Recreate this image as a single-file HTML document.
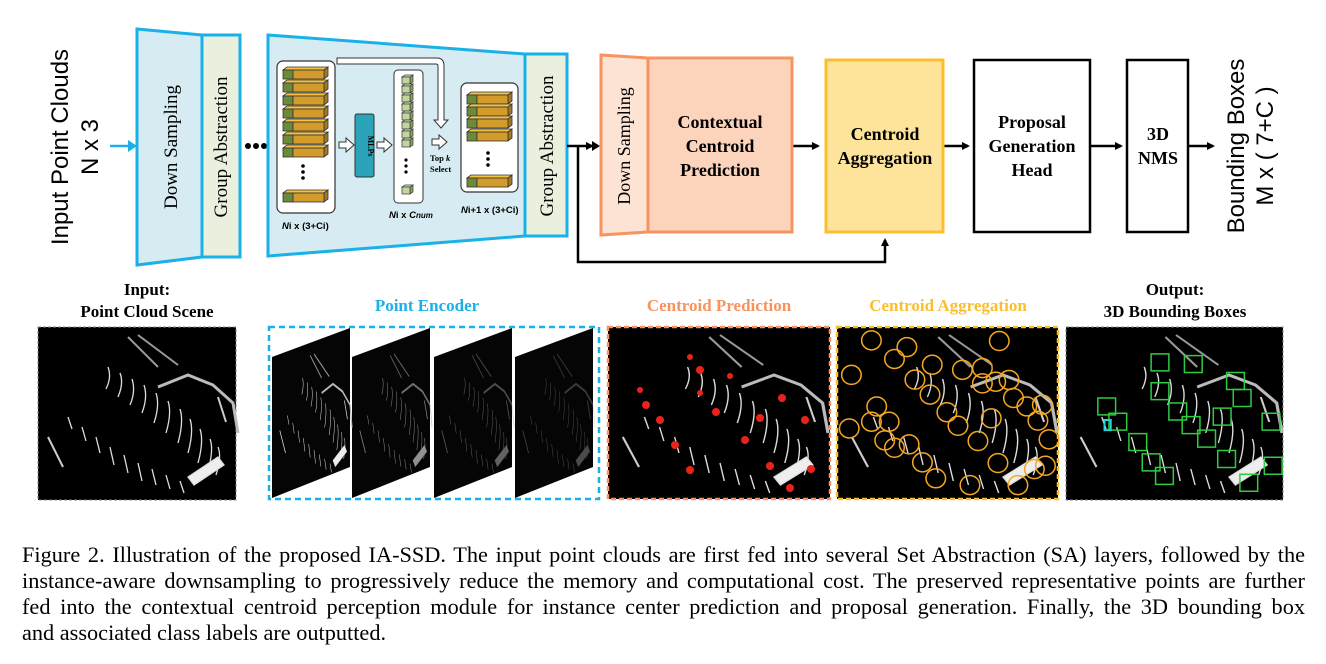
<!DOCTYPE html>
<html><head><meta charset="utf-8"><style>
html,body{margin:0;padding:0;background:#fff;}
body{width:1326px;height:664px;position:relative;overflow:hidden;}
svg{position:absolute;left:0;top:0;}
.cap{position:absolute;left:22px;top:542px;width:1283px;font-family:"Liberation Serif",serif;font-size:22.3px;line-height:26px;color:#000;}
.cap div{text-align:justify;text-align-last:justify;white-space:nowrap;}
.cap div.l{text-align-last:left;}
</style></head><body>
<svg width="1326" height="664" viewBox="0 0 1326 664" xmlns="http://www.w3.org/2000/svg">
<defs>
<marker id="ab" markerWidth="8" markerHeight="8" refX="6" refY="4" orient="auto" markerUnits="userSpaceOnUse"><path d="M0,0 L8,4 L0,8 z" fill="#000"/></marker>
<g id="scene" stroke="#ddd" fill="none" stroke-width="1.3">
<path d="M70,40 q4,10 -2,22 M82,46 q4,10 -2,24 M94,52 q4,12 -2,26 M106,58 q4,12 -2,28 M118,66 q4,12 -2,30 M130,74 q4,12 -2,32 M142,82 q4,12 -2,34 M152,92 q4,12 -2,34 M162,102 q4,12 -2,34 M172,112 q4,10 -2,32 M180,120 q4,10 -2,28"/>
<path d="M30,90 l4,12 M44,100 l4,14 M58,110 l4,16 M72,120 l4,18 M86,128 l4,18 M100,136 l4,18 M114,142 l4,16 M128,148 l4,14 M142,154 l4,12" />
<path d="M150,150 l30,-20 l6,8 l-30,20 z" fill="#eee"/>
<path d="M120,60 l30,-12 l25,10 l20,18 l5,30" stroke="#bbb" stroke-width="3"/>
<path d="M90,10 l30,30 M100,8 l40,30" stroke="#999" stroke-width="2"/>
<path d="M10,110 l15,30 M180,70 l8,25" stroke="#ccc" stroke-width="2"/>
</g>
</defs>

<text transform="translate(68,147) rotate(-90)" text-anchor="middle" font-family="Liberation Sans,sans-serif" font-size="24">Input Point Clouds</text>
<text transform="translate(98,147) rotate(-90)" text-anchor="middle" font-family="Liberation Sans,sans-serif" font-size="24">N x 3</text>
<line x1="110" y1="146" x2="130" y2="146" stroke="#1ab0e8" stroke-width="2.5"/>
<path d="M128,140 L137,146 L128,152 z" fill="#1ab0e8"/>

<path d="M137,29 L202,35 L202,257 L137,265 z" fill="#d6ecf2" stroke="#1ab0e8" stroke-width="3"/>
<rect x="202" y="35" width="38" height="222" fill="#e9f0de" stroke="#1ab0e8" stroke-width="3"/>
<text transform="translate(177,147) rotate(-90)" text-anchor="middle" font-family="Liberation Serif,serif" font-size="19">Down Sampling</text>
<text transform="translate(227,147) rotate(-90)" text-anchor="middle" font-family="Liberation Serif,serif" font-size="19">Group Abstraction</text>
<circle cx="248" cy="146" r="3" fill="#000"/><circle cx="256" cy="146" r="3" fill="#000"/><circle cx="264" cy="146" r="3" fill="#000"/>

<path d="M268,35 L525,54 L525,236 L268,256 z" fill="#d6ecf2" stroke="#1ab0e8" stroke-width="3"/>
<rect x="525" y="54" width="42" height="182" fill="#e9f0de" stroke="#1ab0e8" stroke-width="3"/>
<text transform="translate(553,146) rotate(-90)" text-anchor="middle" font-family="Liberation Serif,serif" font-size="19">Group Abstraction</text>

<rect x="277" y="61" width="58" height="152" rx="6" fill="#fff" stroke="#333" stroke-width="1.2"/>
<g stroke="#333" stroke-width="0.8">
<g id="blk"><path d="M283,70 l4,-3 h41 l-4,3 z" fill="#f5c244"/><path d="M328,67 v9 l-4,3 v-9 z" fill="#a57a1e"/><rect x="283" y="70" width="10" height="9" fill="#6b8a3a"/><rect x="293" y="70" width="31" height="9" fill="#d39a2c"/></g>
<use href="#blk" y="13"/><use href="#blk" y="26"/><use href="#blk" y="39"/><use href="#blk" y="52"/><use href="#blk" y="65"/><use href="#blk" y="78"/><use href="#blk" y="123"/>
</g>
<circle cx="303" cy="166" r="1.8"/><circle cx="303" cy="172" r="1.8"/><circle cx="303" cy="178" r="1.8"/>
<text x="282" y="229" font-family="Liberation Sans,sans-serif" font-size="9.5" font-weight="bold"><tspan font-style="italic">N</tspan>i x (3+Ci)</text>

<path d="M337,61 L337,58 L437,58 Q444,58 444,66 L444,120 L448,120 L441,128 L434,120 L438,120 L438,66 Q438,64 436,64 L337,64 z" fill="#fff" stroke="#333" stroke-width="1"/>

<path d="M339,142 h7 v-4 l8,7 l-8,7 v-4 h-7 z" fill="#fff" stroke="#333" stroke-width="1"/>
<rect x="355" y="114" width="19" height="63" rx="2" fill="#2ba3b8" stroke="#333" stroke-width="1"/>
<text transform="translate(368,146) rotate(90)" text-anchor="middle" font-family="Liberation Serif,serif" font-size="8" font-weight="bold">MLPs</text>
<path d="M377,142 h7 v-4 l8,7 l-8,7 v-4 h-7 z" fill="#fff" stroke="#333" stroke-width="1"/>

<rect x="394" y="70" width="29" height="133" rx="4" fill="#fff" stroke="#333" stroke-width="1"/>
<g stroke="#333" stroke-width="0.7">
<g id="cb"><path d="M402,77 l3,-2 h8 l-3,2 z" fill="#dfe9c8"/><path d="M413,75 v7 l-3,2 v-7 z" fill="#8aa063"/><rect x="402" y="77" width="8" height="7" fill="#c3d59e"/></g>
<use href="#cb" y="9"/><use href="#cb" y="18"/><use href="#cb" y="27"/><use href="#cb" y="36"/><use href="#cb" y="45"/><use href="#cb" y="54"/><use href="#cb" y="63"/><use href="#cb" y="110"/>
</g>
<circle cx="406" cy="160" r="1.6"/><circle cx="406" cy="166" r="1.6"/><circle cx="406" cy="172" r="1.6"/>
<text x="389" y="218" font-family="Liberation Sans,sans-serif" font-size="9.5" font-weight="bold" font-style="italic">N<tspan font-style="normal">i x </tspan>C<tspan font-size="8">num</tspan></text>

<path d="M432,139 h7 v-4 l8,7 l-8,7 v-4 h-7 z" fill="#fff" stroke="#333" stroke-width="1"/>
<text x="430" y="161" font-family="Liberation Serif,serif" font-size="8.5" font-weight="bold">Top <tspan font-style="italic">k</tspan></text>
<text x="430" y="172" font-family="Liberation Serif,serif" font-size="8.5" font-weight="bold">Select</text>

<rect x="461" y="83" width="57" height="109" rx="6" fill="#fff" stroke="#333" stroke-width="1.2"/>
<g stroke="#333" stroke-width="0.8">
<g id="blk2"><path d="M467,95 l4,-3 h41 l-4,3 z" fill="#f5c244"/><path d="M512,92 v9 l-4,3 v-9 z" fill="#a57a1e"/><rect x="467" y="95" width="10" height="9" fill="#6b8a3a"/><rect x="477" y="95" width="31" height="9" fill="#d39a2c"/></g>
<use href="#blk2" y="12"/><use href="#blk2" y="24"/><use href="#blk2" y="37"/><use href="#blk2" y="83"/>
</g>
<circle cx="488" cy="153" r="1.8"/><circle cx="488" cy="159" r="1.8"/><circle cx="488" cy="165" r="1.8"/>
<text x="461" y="213" font-family="Liberation Sans,sans-serif" font-size="9.5" font-weight="bold"><tspan font-style="italic">N</tspan>i+1 x (3+Ci)</text>

<g stroke="#000" stroke-width="2.5" fill="none">
<path d="M567,146 H592" marker-end="url(#ab)"/>
<path d="M578,146 V262 H885 V240" marker-end="url(#ab)"/>
<path d="M792,146 H818" marker-end="url(#ab)"/>
<path d="M943,146 H968" marker-end="url(#ab)"/>
<path d="M1090,146 H1121" marker-end="url(#ab)"/>
<path d="M1188,146 H1213" marker-end="url(#ab)"/>
</g>
<path d="M592,141 L600,146 L592,151 z"/>

<path d="M601,55 L648,58 L648,232 L601,235 z" fill="#fde3d4" stroke="#f7935e" stroke-width="3"/>
<rect x="648" y="58" width="144" height="174" fill="#fcd3bb" stroke="#f7935e" stroke-width="3"/>
<text transform="translate(630,146) rotate(-90)" text-anchor="middle" font-family="Liberation Serif,serif" font-size="18">Down Sampling</text>
<g font-family="Liberation Serif,serif" font-size="18" font-weight="bold" text-anchor="middle">
<text x="720" y="128">Contextual</text><text x="720" y="152">Centroid</text><text x="720" y="176">Prediction</text>
</g>
<rect x="826" y="60" width="117" height="172" fill="#fee49a" stroke="#fbbf2e" stroke-width="3"/>
<g font-family="Liberation Serif,serif" font-size="18" font-weight="bold" text-anchor="middle">
<text x="885" y="140">Centroid</text><text x="885" y="164">Aggregation</text>
</g>
<rect x="974" y="60" width="116" height="172" fill="#fff" stroke="#000" stroke-width="2.5"/>
<g font-family="Liberation Serif,serif" font-size="18" font-weight="bold" text-anchor="middle">
<text x="1032" y="128">Proposal</text><text x="1032" y="152">Generation</text><text x="1032" y="176">Head</text>
</g>
<rect x="1127" y="60" width="61" height="172" fill="#fff" stroke="#000" stroke-width="2.5"/>
<g font-family="Liberation Serif,serif" font-size="18" font-weight="bold" text-anchor="middle">
<text x="1158" y="140">3D</text><text x="1158" y="164">NMS</text>
</g>
<text transform="translate(1244,146) rotate(-90)" text-anchor="middle" font-family="Liberation Sans,sans-serif" font-size="24">Bounding Boxes</text>
<text transform="translate(1273,146) rotate(-90)" text-anchor="middle" font-family="Liberation Sans,sans-serif" font-size="24">M x ( 7+C )</text>

<g font-family="Liberation Serif,serif" font-size="17" font-weight="bold" text-anchor="middle">
<text x="147" y="295">Input:</text><text x="147" y="317">Point Cloud Scene</text>
<text x="427" y="311" fill="#1ab0e8">Point Encoder</text>
<text x="719" y="311" fill="#f7935e">Centroid Prediction</text>
<text x="948" y="311" fill="#fbbf2e">Centroid Aggregation</text>
<text x="1175" y="295">Output:</text><text x="1175" y="317">3D Bounding Boxes</text>
</g>

<rect x="38" y="327" width="198" height="173" fill="#000" stroke="#888" stroke-dasharray="3,2"/>
<use href="#scene" x="38" y="327"/>

<rect x="269" y="327" width="330" height="172" fill="none" stroke="#1ab0e8" stroke-width="2.5" stroke-dasharray="6,4"/>
<g>
<path d="M272,357 L350,328 L350,467 L272,498 z" fill="#050505"/>
<path d="M352,357 L430,328 L430,467 L352,498 z" fill="#050505"/>
<path d="M434,357 L512,328 L512,467 L434,498 z" fill="#050505"/>
<path d="M515,357 L593,328 L593,467 L515,498 z" fill="#050505"/>
<g transform="translate(276,348) scale(0.38,0.75)"><use href="#scene"/></g>
<g transform="translate(356,348) scale(0.38,0.75)" opacity="0.6"><use href="#scene"/></g>
<g transform="translate(438,348) scale(0.38,0.75)" opacity="0.4"><use href="#scene"/></g>
<g transform="translate(519,348) scale(0.38,0.75)" opacity="0.3"><use href="#scene"/></g>
</g>

<rect x="608" y="327" width="222" height="172" fill="#000" stroke="#f7935e" stroke-width="2.5" stroke-dasharray="5,3"/>
<g transform="translate(612,327) scale(1.08,1)"><use href="#scene"/></g>
<g fill="#e8241a">
<circle cx="690" cy="357" r="3"/><circle cx="700" cy="370" r="4"/><circle cx="730" cy="376" r="3"/><circle cx="700" cy="393" r="3"/><circle cx="646" cy="405" r="4"/><circle cx="660" cy="420" r="4"/><circle cx="716" cy="412" r="4"/><circle cx="760" cy="418" r="4"/><circle cx="782" cy="398" r="4"/><circle cx="805" cy="420" r="4"/><circle cx="675" cy="445" r="4"/><circle cx="690" cy="470" r="4"/><circle cx="745" cy="440" r="4"/><circle cx="770" cy="466" r="4"/><circle cx="790" cy="488" r="4"/><circle cx="811" cy="469" r="4"/><circle cx="640" cy="390" r="3"/>
</g>

<rect x="837" y="327" width="221" height="172" fill="#000" stroke="#fbbf2e" stroke-width="2.5" stroke-dasharray="5,3"/>
<g transform="translate(841,327) scale(1.08,1)"><use href="#scene"/></g>
<g transform="translate(605,320) scale(0.444,0.339)" fill="none" stroke="#f5a623">
<g stroke-width="1.5">
<ellipse cx="600" cy="60" rx="22" ry="28" vector-effect="non-scaling-stroke"/><ellipse cx="680" cy="80" rx="22" ry="28" vector-effect="non-scaling-stroke"/><ellipse cx="652" cy="115" rx="22" ry="28" vector-effect="non-scaling-stroke"/><ellipse cx="737" cy="132" rx="22" ry="28" vector-effect="non-scaling-stroke"/><ellipse cx="555" cy="162" rx="22" ry="28" vector-effect="non-scaling-stroke"/><ellipse cx="698" cy="176" rx="22" ry="28" vector-effect="non-scaling-stroke"/><ellipse cx="805" cy="147" rx="22" ry="28" vector-effect="non-scaling-stroke"/><ellipse cx="850" cy="142" rx="22" ry="28" vector-effect="non-scaling-stroke"/><ellipse cx="850" cy="187" rx="22" ry="28" vector-effect="non-scaling-stroke"/><ellipse cx="880" cy="182" rx="22" ry="28" vector-effect="non-scaling-stroke"/><ellipse cx="910" cy="177" rx="22" ry="28" vector-effect="non-scaling-stroke"/><ellipse cx="732" cy="220" rx="22" ry="28" vector-effect="non-scaling-stroke"/><ellipse cx="888" cy="62" rx="22" ry="28" vector-effect="non-scaling-stroke"/><ellipse cx="920" cy="230" rx="22" ry="28" vector-effect="non-scaling-stroke"/><ellipse cx="950" cy="255" rx="22" ry="28" vector-effect="non-scaling-stroke"/><ellipse cx="985" cy="250" rx="22" ry="28" vector-effect="non-scaling-stroke"/><ellipse cx="975" cy="297" rx="22" ry="28" vector-effect="non-scaling-stroke"/><ellipse cx="1000" cy="352" rx="22" ry="28" vector-effect="non-scaling-stroke"/><ellipse cx="612" cy="255" rx="22" ry="28" vector-effect="non-scaling-stroke"/><ellipse cx="600" cy="300" rx="22" ry="28" vector-effect="non-scaling-stroke"/><ellipse cx="640" cy="300" rx="22" ry="28" vector-effect="non-scaling-stroke"/><ellipse cx="550" cy="320" rx="22" ry="28" vector-effect="non-scaling-stroke"/><ellipse cx="630" cy="355" rx="22" ry="28" vector-effect="non-scaling-stroke"/><ellipse cx="652" cy="377" rx="22" ry="28" vector-effect="non-scaling-stroke"/><ellipse cx="685" cy="367" rx="22" ry="28" vector-effect="non-scaling-stroke"/><ellipse cx="715" cy="420" rx="22" ry="28" vector-effect="non-scaling-stroke"/><ellipse cx="745" cy="467" rx="22" ry="28" vector-effect="non-scaling-stroke"/><ellipse cx="770" cy="272" rx="22" ry="28" vector-effect="non-scaling-stroke"/><ellipse cx="795" cy="312" rx="22" ry="28" vector-effect="non-scaling-stroke"/><ellipse cx="840" cy="357" rx="22" ry="28" vector-effect="non-scaling-stroke"/><ellipse cx="870" cy="290" rx="22" ry="28" vector-effect="non-scaling-stroke"/><ellipse cx="885" cy="422" rx="22" ry="28" vector-effect="non-scaling-stroke"/><ellipse cx="967" cy="440" rx="22" ry="28" vector-effect="non-scaling-stroke"/><ellipse cx="992" cy="430" rx="22" ry="28" vector-effect="non-scaling-stroke"/><ellipse cx="930" cy="487" rx="22" ry="28" vector-effect="non-scaling-stroke"/><ellipse cx="822" cy="487" rx="22" ry="28" vector-effect="non-scaling-stroke"/>
</g></g>

<rect x="1066" y="327" width="217" height="173" fill="#000" stroke="#888" stroke-dasharray="3,2"/>
<g transform="translate(1070,327) scale(1.06,1)"><use href="#scene"/></g>
<g transform="translate(605,320) scale(0.444,0.339)" fill="none" stroke="#2ecc40">
<rect x="1230" y="100" width="40" height="50" vector-effect="non-scaling-stroke" stroke-width="1.5"/><rect x="1305" y="105" width="40" height="50" vector-effect="non-scaling-stroke" stroke-width="1.5"/><rect x="1400" y="155" width="40" height="50" vector-effect="non-scaling-stroke" stroke-width="1.5"/><rect x="1230" y="185" width="40" height="50" vector-effect="non-scaling-stroke" stroke-width="1.5"/><rect x="1415" y="205" width="40" height="50" vector-effect="non-scaling-stroke" stroke-width="1.5"/><rect x="1270" y="245" width="40" height="50" vector-effect="non-scaling-stroke" stroke-width="1.5"/><rect x="1110" y="230" width="40" height="50" vector-effect="non-scaling-stroke" stroke-width="1.5"/><rect x="1135" y="275" width="40" height="50" vector-effect="non-scaling-stroke" stroke-width="1.5"/><rect x="1370" y="260" width="40" height="50" vector-effect="non-scaling-stroke" stroke-width="1.5"/><rect x="1480" y="275" width="40" height="50" vector-effect="non-scaling-stroke" stroke-width="1.5"/><rect x="1300" y="285" width="40" height="50" vector-effect="non-scaling-stroke" stroke-width="1.5"/><rect x="1335" y="325" width="40" height="50" vector-effect="non-scaling-stroke" stroke-width="1.5"/><rect x="1180" y="335" width="40" height="50" vector-effect="non-scaling-stroke" stroke-width="1.5"/><rect x="1210" y="395" width="40" height="50" vector-effect="non-scaling-stroke" stroke-width="1.5"/><rect x="1380" y="385" width="40" height="50" vector-effect="non-scaling-stroke" stroke-width="1.5"/><rect x="1485" y="405" width="40" height="50" vector-effect="non-scaling-stroke" stroke-width="1.5"/><rect x="1240" y="435" width="40" height="50" vector-effect="non-scaling-stroke" stroke-width="1.5"/><rect x="1430" y="455" width="40" height="50" vector-effect="non-scaling-stroke" stroke-width="1.5"/>
<rect x="1125" y="295" width="14" height="30" stroke="#2ad0e0" vector-effect="non-scaling-stroke" stroke-width="2"/>
</g>
</svg>
<div class="cap">
<div>Figure 2. Illustration of the proposed IA-SSD. The input point clouds are first fed into several Set Abstraction (SA) layers, followed by the</div>
<div>instance-aware downsampling to progressively reduce the memory and computational cost. The preserved representative points are further</div>
<div>fed into the contextual centroid perception module for instance center prediction and proposal generation. Finally, the 3D bounding box</div>
<div class="l">and associated class labels are outputted.</div>
</div>
</body></html>
